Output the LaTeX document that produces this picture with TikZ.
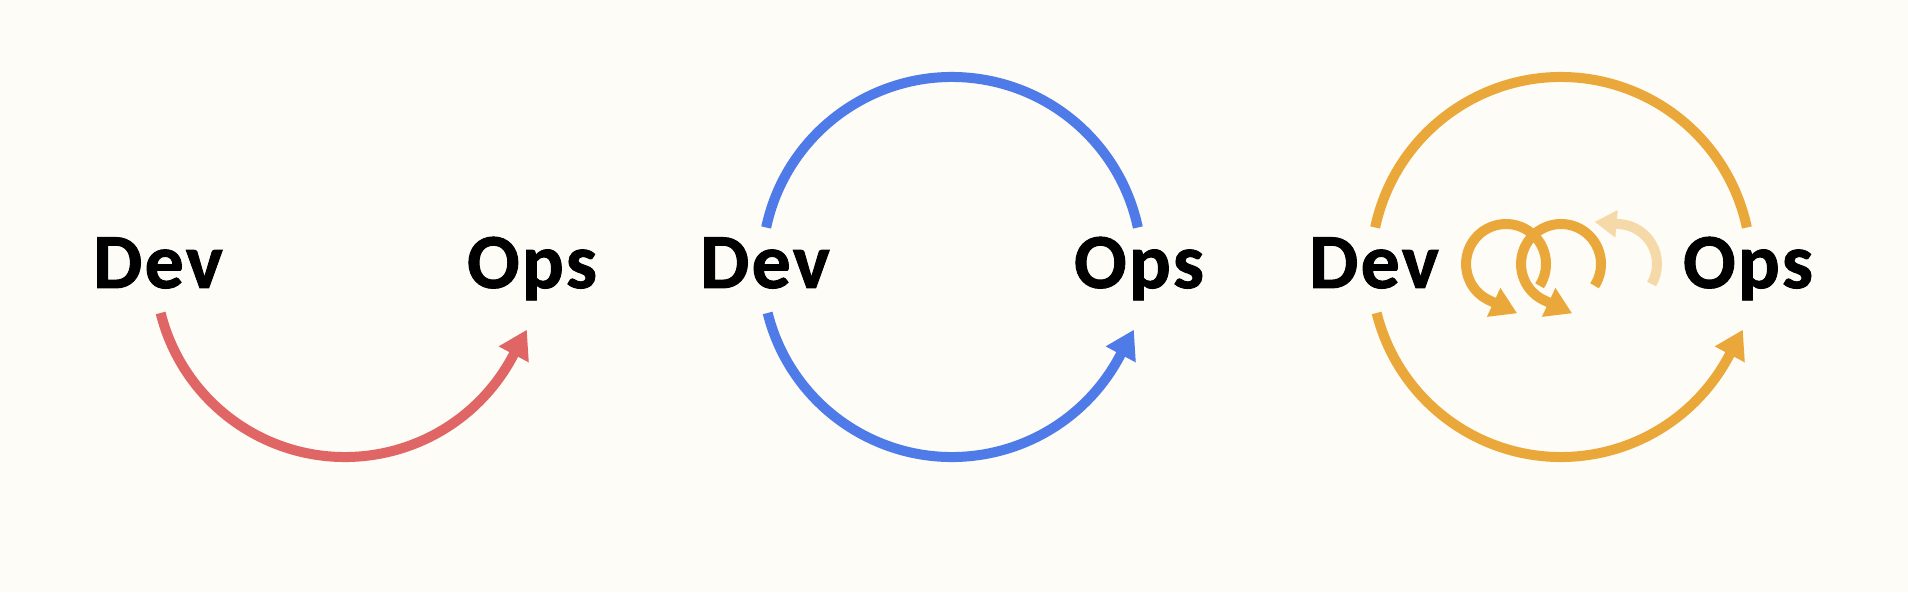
\documentclass[tikz,border=0pt]{standalone}
\usepackage{fontspec}
\IfFontExistsTF{Carlito Bold}{\newfontfamily\labfont{Carlito Bold}[FakeBold=1.2,LetterSpace=3]}{\newfontfamily\labfont{Carlito}[FakeBold=3,LetterSpace=3]}
\usetikzlibrary{arrows.meta}
\definecolor{bg}{HTML}{FDFCF6}
\definecolor{redc}{HTML}{E06666}
\definecolor{bluec}{HTML}{4F7BE8}
\definecolor{orangec}{HTML}{EBA83A}
\definecolor{fadec}{HTML}{F5D9A8}
\begin{document}
\begin{tikzpicture}[x=1pt,y=1pt,
  lab/.style={font=\labfont\fontsize{78}{90}\selectfont, anchor=base, inner sep=0pt, text=black},
  ring/.style={line width=10pt},
  bigtip/.style={-{Triangle[length=28pt,width=32pt]}},
  looptip/.style={-{Triangle[length=26pt,width=30pt]}},
  fadetip/.style={-{Triangle[length=22pt,width=26pt]}}
]
\fill[bg] (0,0) rectangle (1908,592);
\useasboundingbox (0,0) rectangle (1908,592);

% centres
\coordinate (c1) at (345,325);
\coordinate (c2) at (952,325);
\coordinate (c3) at (1561,325);

% labels
\node[lab] (dev1) at (158,304) {Dev};
\node[lab] (ops1) at (532,304) {Ops};
\node[lab] (dev2) at (765,304) {Dev};
\node[lab] (ops2) at (1139,304) {Ops};
\node[lab] (dev3) at (1374,304) {Dev};
\node[lab] (ops3) at (1748,304) {Ops};

% panel 1
\draw[ring, redc, bigtip] ([shift={(194:190)}]c1) arc[start angle=194, end angle=332, radius=190] -- ++(14.1,26.5);

% panel 2
\draw[ring, bluec] ([shift={(168:190)}]c2) arc[start angle=168, end angle=12, radius=190];
\draw[ring, bluec, bigtip] ([shift={(194:190)}]c2) arc[start angle=194, end angle=332, radius=190] -- ++(14.1,26.5);

% panel 3
\draw[ring, orangec] ([shift={(168:190)}]c3) arc[start angle=168, end angle=12, radius=190];
\draw[ring, orangec, bigtip] ([shift={(194:190)}]c3) arc[start angle=194, end angle=332, radius=190] -- ++(14.1,26.5);

% small loops
\coordinate (l1) at (1506,328);
\coordinate (l2) at (1561,328);
\coordinate (l3) at (1617,328);
\draw[ring, fadec, fadetip] ([shift={(-30:40)}]l3) arc[start angle=-30, end angle=85, radius=40] -- ++(-25.9,2.3);
\draw[ring, orangec, looptip] ([shift={(-33:40)}]l1) arc[start angle=-33, end angle=245, radius=40] -- ++(28.1,-13.1);
\draw[ring, orangec, looptip] ([shift={(-33:40)}]l2) arc[start angle=-33, end angle=245, radius=40] -- ++(28.1,-13.1);
\end{tikzpicture}
\end{document}
